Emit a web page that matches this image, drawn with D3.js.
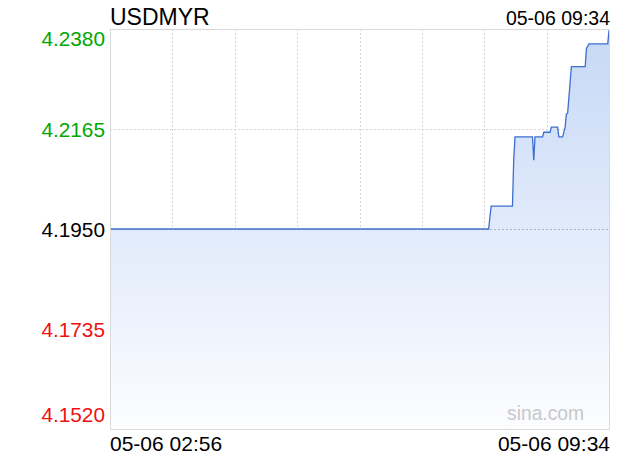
<!DOCTYPE html>
<html><head><meta charset="utf-8">
<script src="https://cdn.jsdelivr.net/npm/d3@7"></script>
<style>body{margin:0;background:#fff}svg{display:block}text{font-family:"Liberation Sans",Arial,sans-serif}</style>
</head><body><svg id="c" width="620" height="460"></svg>
<script>
const title = "USDMYR";
const day = "2024-05-06";
const times = ["02:56","07:58","08:00","08:17","08:18","08:19","08:33","08:34","08:35","08:41","08:42","08:47","08:48","08:53","08:54","08:57","08:59","09:00","09:01","09:04","09:15","09:16","09:18","09:33","09:34"];
const values = [4.1950,4.1950,4.1999,4.1999,4.2098,4.2148,4.2148,4.2098,4.2148,4.2148,4.2158,4.2158,4.2169,4.2169,4.2148,4.2148,4.2169,4.2197,4.2199,4.2299,4.2299,4.2338,4.2348,4.2348,4.2377];
const yTicks = [4.2380,4.2165,4.1950,4.1735,4.1520];
const prevClose = 4.1950;
const xLabels = ["05-06 02:56","05-06 09:34"];
const lastLabel = "05-06 09:34";

const parse = d3.timeParse("%Y-%m-%d %H:%M");
const data = times.map((t,i)=>({t:parse(day+" "+t), v:values[i]}));

const L=110,R=609,T=29,B=429;
const svg = d3.select("#c");
const x = d3.scaleTime().domain([data[0].t, data[data.length-1].t]).range([L,R]);
const y = d3.scaleLinear().domain([4.1520,4.2380]).range([B,T]);

const defs = svg.append("defs");
const g = defs.append("linearGradient").attr("id","gr").attr("gradientUnits","userSpaceOnUse")
  .attr("x1",0).attr("y1",T).attr("x2",0).attr("y2",B);
g.append("stop").attr("offset",0).attr("stop-color","#c6d8f6");
g.append("stop").attr("offset",1).attr("stop-color","#fcfdff");

// grid
const [t0,t1] = x.domain();
const vTicks = d3.range(1,8).map(k=>new Date(+t0 + (t1-t0)*k/8));
svg.append("g").selectAll("line").data(vTicks).join("line")
  .attr("x1",d=>Math.round(x(d))+0.5).attr("x2",d=>Math.round(x(d))+0.5)
  .attr("y1",T).attr("y2",B).attr("stroke","#d8d8d8").attr("stroke-dasharray","2,2");
svg.append("g").selectAll("line").data(yTicks.slice(1,4).filter(v=>v!==prevClose)).join("line")
  .attr("x1",L).attr("x2",R).attr("y1",d=>Math.round(y(d))+0.5).attr("y2",d=>Math.round(y(d))+0.5)
  .attr("stroke","#d8d8d8").attr("stroke-dasharray","2,2");

// area
const area = d3.area().x(d=>x(d.t)).y0(B).y1(d=>y(d.v));
svg.append("path").datum(data).attr("d",area).attr("fill","url(#gr)");

// prev close line
svg.append("line").attr("x1",L).attr("x2",R).attr("y1",Math.round(y(prevClose))+0.5).attr("y2",Math.round(y(prevClose))+0.5)
  .attr("stroke","#aab2c0").attr("stroke-dasharray","2,2");

// line
const line = d3.line().x(d=>x(d.t)).y(d=>y(d.v));
svg.append("path").datum(data).attr("d",line).attr("fill","none").attr("stroke","#3c6fd0").attr("stroke-width",1.3);

// border
svg.append("rect").attr("x",L+0.5).attr("y",T+0.5).attr("width",R-L).attr("height",B-T)
  .attr("fill","none").attr("stroke","#d9d9d9");

// y labels
svg.append("g").selectAll("text").data(yTicks).join("text")
  .attr("x",105).attr("text-anchor","end")
  .attr("y",(d,i)=> i===0 ? y(d)+17 : i===yTicks.length-1 ? y(d)-7 : y(d)+7.5)
  .attr("font-size","20.8px")
  .attr("fill",d=> d>prevClose ? "#00a800" : d<prevClose ? "#f01010" : "#000")
  .text(d=>d.toFixed(4));

// x labels
svg.append("text").attr("x",L).attr("y",451).attr("font-size","21px").attr("fill","#000").text(xLabels[0]);
svg.append("text").attr("x",R+1).attr("y",451).attr("font-size","21px").attr("text-anchor","end").attr("fill","#000").text(xLabels[1]);

// title & time
svg.append("text").attr("x",L).attr("y",25).attr("font-size","23px").attr("fill","#000").text(title);
svg.append("text").attr("x",R+1).attr("y",25).attr("font-size","19.5px").attr("text-anchor","end").attr("fill","#000").text(lastLabel);

// watermark
svg.append("text").attr("x",507).attr("y",420).attr("font-size","19.3px").attr("fill","#c8c8c8").text("sina.com");
</script></body></html>
